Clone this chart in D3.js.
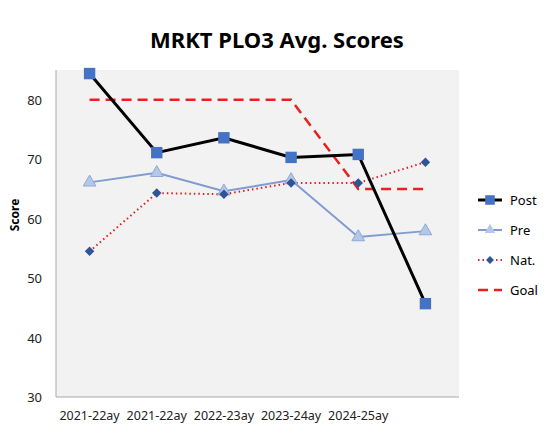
<!DOCTYPE html><html><head><script src="https://cdn.jsdelivr.net/npm/d3@7"></script>
<style>body{margin:0;background:#fff}text{font-family:"Noto Sans",sans-serif}</style></head><body>
<svg id="c" width="555" height="444"></svg>
<script>
const categories=["2021-22ay","2021-22ay","2022-23ay","2023-24ay","2024-25ay",""];
const post=[84.4,71.1,73.6,70.3,70.8,45.7];
const pre=[66.1,67.7,64.6,66.5,56.9,57.9];
const nat=[54.5,64.3,64.1,66.0,66.0,69.5];
const goal=[80,80,80,80,65,65];
const yTicks=[30,40,50,60,70,80];
const svg=d3.select("#c");
const L=56,R=459,T=70,B=397;
const x=d3.scaleBand().domain(d3.range(6)).range([L,R]);
const cx=i=>x(i)+x.bandwidth()/2;
const y=d3.scaleLinear().domain([30,85]).range([B,T]);
svg.append("rect").attr("x",L).attr("y",T).attr("width",R-L).attr("height",B-T).attr("fill","#f2f2f2");
svg.append("line").attr("x1",L).attr("x2",L).attr("y1",T).attr("y2",B).attr("stroke","#aaa");
svg.append("line").attr("x1",L).attr("x2",R).attr("y1",B).attr("y2",B).attr("stroke","#aaa");
svg.append("g").selectAll("text").data(yTicks).join("text").attr("x",L-14).attr("y",d=>y(d)+5).attr("text-anchor","end").attr("font-size",13).attr("fill","#222").text(d=>d);
svg.append("g").selectAll("text").data(categories).join("text").attr("x",(d,i)=>cx(i)).attr("y",420).attr("text-anchor","middle").attr("font-size",12.5).attr("fill","#222").text(d=>d);
svg.append("text").attr("x",277).attr("y",48).attr("text-anchor","middle").attr("font-size",22).attr("font-weight","bold").text("MRKT PLO3 Avg. Scores");
svg.append("text").attr("transform","translate(19,215) rotate(-90)").attr("text-anchor","middle").attr("font-size",12).attr("font-weight","bold").text("Score");
const line=d3.line().x((d,i)=>cx(i)).y(d=>y(d));
const series=[
 {name:"Post",data:post,color:"#000",w:3,dash:null,marker:"square"},
 {name:"Pre",data:pre,color:"#7f9bd0",w:2,dash:null,marker:"triangle"},
 {name:"Nat.",data:nat,color:"#e02020",w:2,dash:"1.5,3",marker:"diamond"},
 {name:"Goal",data:goal,color:"#e82020",w:2.5,dash:"10,6",marker:null}];
const sym={square:[d3.symbolSquare,130,"#4472c4",0],triangle:[d3.symbolTriangle,70,"#b4c7e7",0],diamond:[d3.symbolSquare,45,"#2f5597",45]};
series.slice().reverse().forEach(s=>{
 svg.append("path").attr("d",line(s.data)).attr("fill","none").attr("stroke",s.color).attr("stroke-width",s.w).attr("stroke-dasharray",s.dash);
});
series.forEach(s=>{ if(!s.marker)return; const m=sym[s.marker];
 svg.append("g").selectAll("path").data(s.data).join("path").attr("transform",(d,i)=>`translate(${cx(i)},${y(d)}) rotate(${m[3]})`).attr("d",d3.symbol(m[0],m[1])()).attr("fill",m[2]).attr("stroke",s.marker==="triangle"?"#8fa9d8":"none");
});
series.forEach((s,k)=>{const ly=200+k*30;
 svg.append("line").attr("x1",478).attr("x2",502).attr("y1",ly).attr("y2",ly).attr("stroke",s.color).attr("stroke-width",s.w).attr("stroke-dasharray",s.dash);
 if(s.marker){const m=sym[s.marker];svg.append("path").attr("transform",`translate(490,${ly}) rotate(${m[3]})`).attr("d",d3.symbol(m[0],m[1]*0.7)()).attr("fill",m[2]);}
 svg.append("text").attr("x",510).attr("y",ly+5).attr("font-size",13).text(s.name);
});
</script></body></html>
